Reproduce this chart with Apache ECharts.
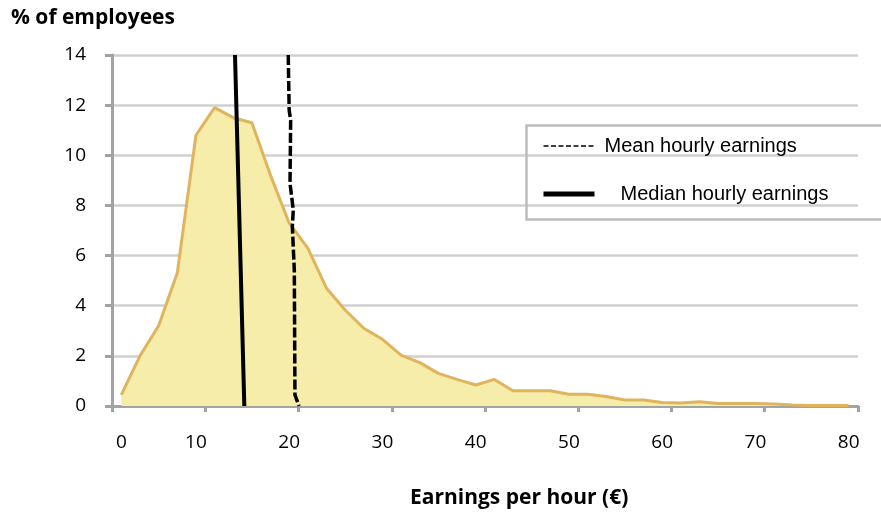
<!DOCTYPE html>
<html>
<head>
<meta charset="utf-8">
<script src="https://cdn.jsdelivr.net/npm/echarts@6/dist/echarts.min.js"></script>
<style>
  html, body { margin: 0; padding: 0; background: #fff; }
  #chart { width: 881px; height: 514px; }
</style>
</head>
<body>
<div id="chart"></div>
<script>
// Earnings categories (upper bounds of bins, €)
const categories = ['0','2.5','5','7.5','10','12','14','16','18','20',
  '22','24','26','28','30','32','34','36','38','40',
  '42','44','46','48','50','52','54','56','58','60',
  '62','64','66','68','70','72','74','76','78','80'];
// % of employees per bin
const shareOfEmployees = [0.44, 2.0, 3.2, 5.3, 10.8, 11.9, 11.5, 11.3, 9.2, 7.3,
  6.3, 4.7, 3.83, 3.1, 2.66, 2.03, 1.73, 1.30, 1.06, 0.84,
  1.06, 0.61, 0.61, 0.61, 0.47, 0.47, 0.38, 0.24, 0.24, 0.14,
  0.12, 0.17, 0.10, 0.10, 0.10, 0.08, 0.04, 0.02, 0.02, 0.02];
// Mean line (earnings €, % of employees)
const meanX = [18.9, 19.0, 19.16, 19.09, 19.44, 19.34, 19.55, 19.62, 20.05];
const meanY = [14, 11.8, 11.4, 8.88, 7.82, 7.15, 5.42, 0.44, 0];
// Median line
const medianX = [13.19, 14.19];
const medianY = [14, 0];
// Value axis range for reference lines
const earningsMin = 0, earningsMax = 80;
const yMin = 0, yMax = 14, yStep = 2;

const zip = (xs, ys) => xs.map((x, i) => [x, ys[i]]);

const chart = echarts.init(document.getElementById('chart'), null, { renderer: 'canvas' });
const axisGrey = '#a3a3a3';
const labelFont = '"Open Sans", Lato, sans-serif';
const legendFont = '"Liberation Sans", Arial, sans-serif';

chart.setOption({
  animation: false,
  title: [
    { text: '% of employees', left: 11, top: 8, padding: 0,
      textStyle: { fontFamily: labelFont, fontWeight: 'bold', fontSize: 21, color: '#000' } },
    { text: 'Earnings per hour (€)', left: 410, top: 488, padding: 0,
      textStyle: { fontFamily: labelFont, fontWeight: 'bold', fontSize: 21, color: '#000' } }
  ],
  grid: { left: 112, right: 23, top: 55, bottom: 108 },
  legend: {
    orient: 'vertical', left: 541, top: 134, padding: 0,
    itemWidth: 51, itemHeight: 14, itemGap: 24,
    textStyle: { fontFamily: legendFont, fontSize: 20, color: '#000', lineHeight: 24,
      rich: {
        a: { fontFamily: legendFont, fontSize: 20, color: '#000', padding: [0, 0, 0, 5] },
        b: { fontFamily: legendFont, fontSize: 20, color: '#000', padding: [0, 0, 0, 21] }
      } },
    formatter: name => name === 'Mean hourly earnings' ? '{a|' + name + '}' : '{b|' + name + '}',
    data: [
      { name: 'Mean hourly earnings', itemStyle: { opacity: 0 },
        lineStyle: { width: 1.6, type: [5, 2.5], color: '#000' } },
      { name: 'Median hourly earnings', itemStyle: { opacity: 0 },
        lineStyle: { width: 5, type: 'solid', color: '#000' } }
    ]
  },
  graphic: [
    { type: 'rect', left: 524, top: 123, shape: { width: 380, height: 94 },
      style: { fill: 'none', stroke: '#bdbdbd', lineWidth: 2.5 }, z: 100 }
  ],
  xAxis: [
    {
      type: 'category', data: categories, boundaryGap: true,
      axisLine: { lineStyle: { color: axisGrey, width: 3 } },
      axisTick: { show: true, interval: 4, length: 6, lineStyle: { color: axisGrey, width: 3 } },
      axisLabel: {
        interval: (index, value) => Number(value) % 10 === 0,
        fontFamily: labelFont, fontSize: 19, color: '#000', margin: 27
      },
      splitLine: { show: false }
    },
    {
      type: 'value', min: earningsMin, max: earningsMax, show: false,
      splitLine: { show: false }
    }
  ],
  yAxis: {
    type: 'value', min: yMin, max: yMax, interval: yStep,
    axisLine: { show: true, lineStyle: { color: axisGrey, width: 3 } },
    axisTick: { show: true, length: 7, lineStyle: { color: axisGrey, width: 3 } },
    axisLabel: { fontFamily: labelFont, fontSize: 19, color: '#000', margin: 26 },
    splitLine: { lineStyle: { color: '#d0d0d0', width: 2.5 } }
  },
  series: [
    {
      name: 'Distribution', type: 'line', xAxisIndex: 0, data: shareOfEmployees,
      symbol: 'none', smooth: false,
      lineStyle: { color: '#e0b45c', width: 3 },
      areaStyle: { color: '#f5eda9', opacity: 1 },
      z: 2
    },
    {
      name: 'Mean hourly earnings', type: 'line', xAxisIndex: 1, data: zip(meanX, meanY),
      symbol: 'none', lineStyle: { color: '#000', width: 3.5, type: [10, 3] }, z: 3
    },
    {
      name: 'Median hourly earnings', type: 'line', xAxisIndex: 1, data: zip(medianX, medianY),
      symbol: 'none', lineStyle: { color: '#000', width: 4 }, z: 3
    }
  ]
});
</script>
</body>
</html>
